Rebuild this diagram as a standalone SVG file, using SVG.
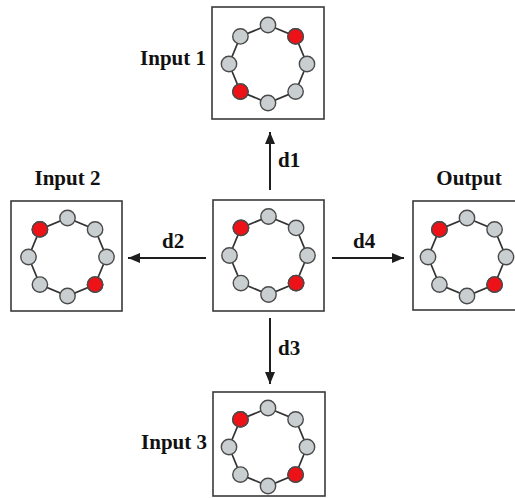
<svg xmlns="http://www.w3.org/2000/svg" xmlns:xlink="http://www.w3.org/1999/xlink" width="515" height="498" viewBox="0 0 515 498">
  <style>
    .box { fill: #ffffff; stroke: #3a3a3a; stroke-width: 1.6; }
    .ring { fill: none; stroke: #333333; stroke-width: 1.7; }
    .n { fill: #c9ced1; stroke: #4a4a4a; stroke-width: 1.4; }
    .r { fill: #ec1218; stroke: #4a4a4a; stroke-width: 1.4; }
    .lbl { font-family: "Liberation Serif", "Times New Roman", serif; font-weight: bold; font-size: 21px; fill: #111111; }
    .conn { stroke: #1e1e1e; stroke-width: 2; fill: none; marker-end: url(#head); }
  </style>
  <defs>
    <marker id="head" markerUnits="userSpaceOnUse" markerWidth="12" markerHeight="10" refX="12" refY="5" orient="auto">
      <path d="M0,0 L12,5 L0,10 z" fill="#1e1e1e"/>
    </marker>
    <!-- eight-node ring, radius 39, nodes every 45 degrees starting at the top -->
    <g id="ring">
      <polygon class="ring" points="0,-39 27.58,-27.58 39,0 27.58,27.58 0,39 -27.58,27.58 -39,0 -27.58,-27.58"/>
      <circle class="n" cx="0" cy="-39" r="7.7"/>
      <circle class="n" cx="27.58" cy="-27.58" r="7.7"/>
      <circle class="n" cx="39" cy="0" r="7.7"/>
      <circle class="n" cx="27.58" cy="27.58" r="7.7"/>
      <circle class="n" cx="0" cy="39" r="7.7"/>
      <circle class="n" cx="-27.58" cy="27.58" r="7.7"/>
      <circle class="n" cx="-39" cy="0" r="7.7"/>
      <circle class="n" cx="-27.58" cy="-27.58" r="7.7"/>
    </g>
  </defs>

  <rect width="515" height="498" fill="#ffffff"/>

  <g id="input1">
    <rect class="box" x="212" y="7" width="112" height="112"/>
    <g transform="translate(268,64)">
      <use xlink:href="#ring" href="#ring"/>
      <circle class="r" cx="27.58" cy="-27.58" r="7.7"/>
      <circle class="r" cx="-27.58" cy="27.58" r="7.7"/>
    </g>
    <text class="lbl" x="206" y="65" text-anchor="end">Input 1</text>
  </g>

  <g id="center">
    <rect class="box" x="213" y="200" width="111" height="111"/>
    <g transform="translate(268.5,255.5)">
      <use xlink:href="#ring" href="#ring"/>
      <circle class="r" cx="-27.58" cy="-27.58" r="7.7"/>
      <circle class="r" cx="27.58" cy="27.58" r="7.7"/>
    </g>
  </g>

  <g id="input2">
    <rect class="box" x="11" y="201" width="111" height="110"/>
    <g transform="translate(67.5,257)">
      <use xlink:href="#ring" href="#ring"/>
      <circle class="r" cx="-27.58" cy="-27.58" r="7.7"/>
      <circle class="r" cx="27.58" cy="27.58" r="7.7"/>
    </g>
    <text class="lbl" x="67.5" y="185" text-anchor="middle">Input 2</text>
  </g>

  <g id="output">
    <rect class="box" x="413" y="201" width="110" height="109"/>
    <g transform="translate(467,257)">
      <use xlink:href="#ring" href="#ring"/>
      <circle class="r" cx="-27.58" cy="-27.58" r="7.7"/>
      <circle class="r" cx="27.58" cy="27.58" r="7.7"/>
    </g>
    <text class="lbl" x="469" y="185" text-anchor="middle">Output</text>
  </g>

  <g id="input3">
    <rect class="box" x="213" y="392" width="112" height="104"/>
    <g transform="translate(268,447)">
      <use xlink:href="#ring" href="#ring"/>
      <circle class="r" cx="-27.58" cy="-27.58" r="7.7"/>
      <circle class="r" cx="27.58" cy="27.58" r="7.7"/>
    </g>
    <text class="lbl" x="207" y="449" text-anchor="end">Input 3</text>
  </g>

  <g id="connectors">
    <line class="conn" x1="270" y1="190" x2="270" y2="132"/>
    <line class="conn" x1="206" y1="258" x2="128" y2="258"/>
    <line class="conn" x1="270" y1="318" x2="270" y2="384"/>
    <line class="conn" x1="332" y1="258" x2="404" y2="258"/>
    <text class="lbl" x="278" y="167">d1</text>
    <text class="lbl" x="162" y="248">d2</text>
    <text class="lbl" x="278" y="355">d3</text>
    <text class="lbl" x="353" y="248">d4</text>
  </g>
</svg>
